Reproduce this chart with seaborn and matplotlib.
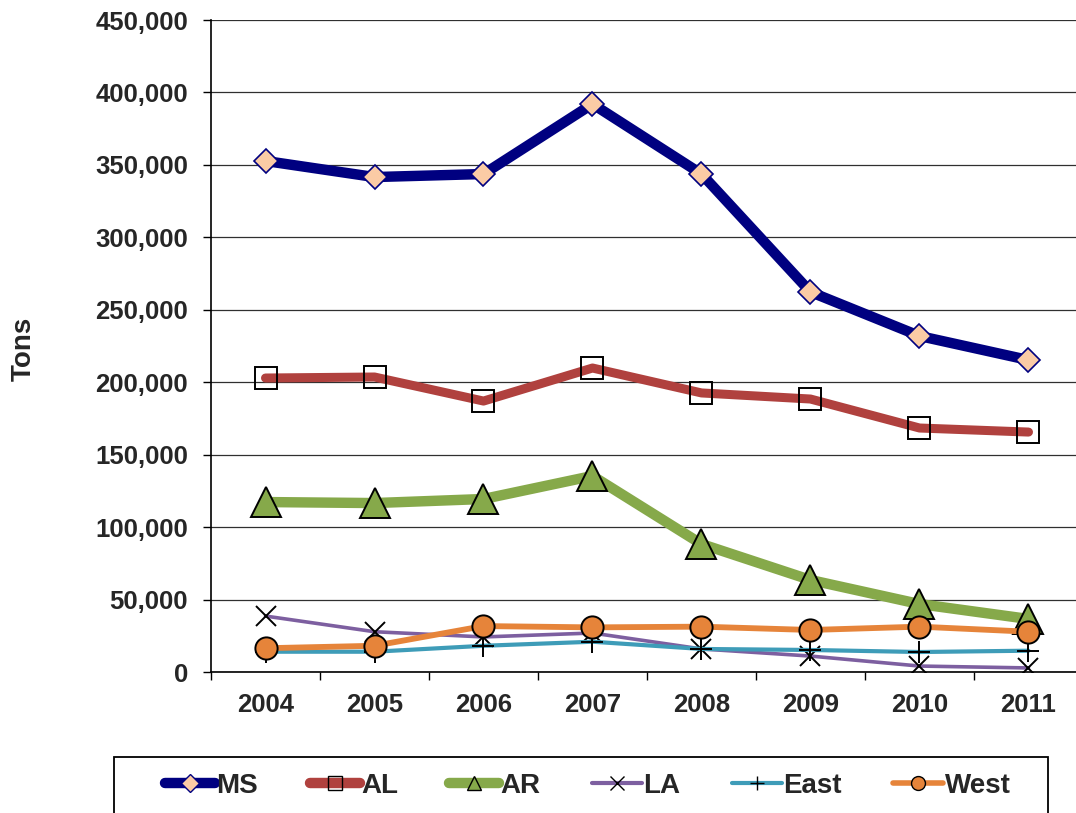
import matplotlib
matplotlib.use("Agg")
import matplotlib.pyplot as plt
import seaborn as sns
import pandas as pd
from matplotlib.lines import Line2D
from matplotlib.patches import Rectangle
from matplotlib.ticker import FuncFormatter

years = ["2004", "2005", "2006", "2007", "2008", "2009", "2010", "2011"]
ms = [352700, 341600, 343700, 392000, 343700, 262300, 231900, 215300]
al = [202900, 203600, 187000, 209800, 192600, 188400, 168400, 165600]
ar = [117300, 116600, 119400, 135300, 88300, 63500, 46900, 36600]
la = [38600, 27800, 24200, 26900, 15900, 11000, 4100, 2800]
east = [14000, 14000, 18100, 20900, 15900, 15200, 13800, 14700]
west = [16400, 18100, 31700, 30800, 31300, 29000, 31300, 27800]

series_names = ["MS", "AL", "AR", "LA", "East", "West"]
series_values = [ms, al, ar, la, east, west]

# style per series: color, linewidth, marker, marker size, face, edge
styles = {
    "MS": dict(color="#000080", lw=7.5, marker="D", ms=12.5, mfc="#FBCBA5", mec="#000080", mew=1.2),
    "AL": dict(color="#B0413E", lw=6.5, marker="s", ms=16, mfc="none", mec="black", mew=1.4),
    "AR": dict(color="#86A94A", lw=7.5, marker="^", ms=21, mfc="#86A94A", mec="black", mew=1.4),
    "LA": dict(color="#7D5FA0", lw=2.6, marker="x", ms=15, mfc="black", mec="black", mew=1.4),
    "East": dict(color="#3E9CB8", lw=3.0, marker="+", ms=16, mfc="black", mec="black", mew=1.4),
    "West": dict(color="#E6843A", lw=4.2, marker="o", ms=16, mfc="#E6843A", mec="black", mew=1.4),
}
legend_ms = {"MS": 9.5, "AL": 10.5, "AR": 10, "LA": 10.5, "East": 10.5, "West": 10}
legend_lw = {"MS": 7.5, "AL": 7.5, "AR": 7.5, "LA": 3.0, "East": 3.0, "West": 4.0}

rows = []
for name, vals in zip(series_names, series_values):
    for i, v in enumerate(vals):
        rows.append({"series": name, "idx": i, "tons": v})
df = pd.DataFrame(rows)

sns.set_style("white")
plt.rcParams["font.family"] = ["Liberation Sans", "DejaVu Sans"]
plt.rcParams["font.weight"] = "bold"

fig = plt.figure(figsize=(10.76, 8.13), dpi=100)
ax = fig.add_axes([211 / 1076, 1 - 672 / 813, 872 / 1076, 652 / 813])

for name in series_names:
    st = styles[name]
    sub = df[df["series"] == name]
    sns.lineplot(data=sub, x="idx", y="tons", ax=ax, color=st["color"], linewidth=st["lw"],
                 marker=st["marker"], markersize=st["ms"], markerfacecolor=st["mfc"],
                 markeredgecolor=st["mec"], markeredgewidth=st["mew"], solid_capstyle="round",
                 solid_joinstyle="round", legend=False, zorder=3)

ax.set_ylim(0, 450000)
ax.set_xlim(-0.5, 7.5)
ax.set_yticks(range(0, 450001, 50000))
ax.yaxis.set_major_formatter(FuncFormatter(lambda v, p: f"{int(v):,}"))
ax.yaxis.grid(True, color="#303030", linewidth=0.9)
ax.set_axisbelow(True)

ax.set_xticks([i - 0.5 for i in range(len(years) + 1)])
ax.set_xticklabels([])
ax.set_xticks(range(len(years)), minor=True)
ax.set_xticklabels(years, minor=True)
ax.tick_params(axis="x", which="major", direction="out", length=5.5, width=1, color="black", bottom=True)
ax.tick_params(axis="x", which="minor", length=0, pad=15, labelsize=18.5)
ax.tick_params(axis="y", direction="out", length=5.5, width=1, color="black", left=True, labelsize=18.5, pad=11)

for lab in ax.get_xticklabels(minor=True) + ax.get_yticklabels():
    lab.set_fontweight("bold")

for s in ["top", "right"]:
    ax.spines[s].set_visible(False)
for s in ["left", "bottom"]:
    ax.spines[s].set_color("black")
    ax.spines[s].set_linewidth(1.2)

ax.set_xlabel("")
ax.set_ylabel("")
fig.text(24 / 1076, 1 - 349 / 813, "Tons", rotation=90, ha="center", va="center", fontsize=20, fontweight="bold")

handles = []
for name in series_names:
    st = styles[name]
    handles.append(Line2D([0], [0], color=st["color"], lw=legend_lw[name], marker=st["marker"],
                          markersize=legend_ms[name], markerfacecolor=st["mfc"],
                          markeredgecolor=st["mec"], markeredgewidth=1.0, solid_capstyle="round"))
leg = fig.legend(handles, series_names, loc="center left", bbox_to_anchor=(165 / 1076, 1 - 786 / 813),
                 ncol=6, frameon=False, handlelength=1.8, handletextpad=0.05, columnspacing=1.85,
                 borderpad=0, borderaxespad=0, prop={"size": 20, "weight": "bold"})

fig.patches.append(Rectangle((114 / 1076, -0.05), 934 / 1076, 0.05 + 1 - 757 / 813,
                             transform=fig.transFigure, fill=False, edgecolor="black", linewidth=1.3))

fig.savefig("out.png", dpi=100)
